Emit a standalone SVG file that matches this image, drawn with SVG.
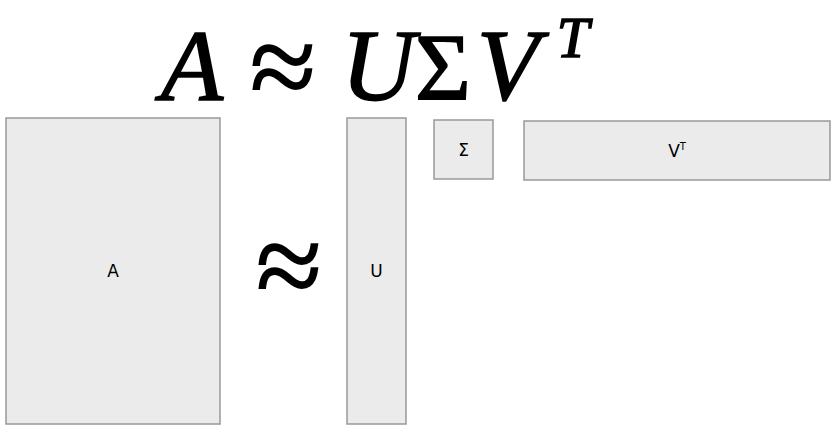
<svg xmlns="http://www.w3.org/2000/svg" width="840" height="432" viewBox="0 0 840 432">
<style>
.box{fill:#ebebeb;stroke:#999;stroke-width:1.5}
.lbl{font-family:"DejaVu Sans",sans-serif;font-size:17px;fill:#000;text-anchor:middle;dominant-baseline:central}
.math{font-family:"Liberation Serif",serif;fill:#000;stroke:#000;stroke-width:1.6;text-anchor:middle}
.it{font-style:italic}
</style>
<rect width="840" height="432" fill="#fff"/>
<g id="title">
<text class="math it" x="192" y="100" font-size="102">A</text>
<text class="math" x="283" y="107" font-size="120" stroke-width="1.1">≈</text>
<text class="math it" x="378" y="100" font-size="102">U</text>
<text class="math" x="443" y="100" font-size="96">Σ</text>
<text class="math it" x="508" y="100" font-size="102">V</text>
<text class="math it" x="573" y="57" font-size="58" stroke-width="1">T</text>
</g>
<g id="node-A"><rect class="box" x="6" y="118" width="214" height="306"/><text class="lbl" x="113" y="271">A</text></g>
<g id="approx"><text class="math" x="289" y="306" font-size="120" stroke-width="1.1">≈</text></g>
<g id="node-U"><rect class="box" x="347" y="118" width="59" height="306"/><text class="lbl" x="376.5" y="271">U</text></g>
<g id="node-S"><rect class="box" x="434" y="120" width="59" height="59"/><text class="lbl" x="463.5" y="150">Σ</text></g>
<g id="node-VT"><rect class="box" x="524" y="121" width="306" height="59"/><text class="lbl" x="677" y="151"><tspan>V</tspan><tspan font-size="10" dy="-5">T</tspan></text></g>
<g id="connectors"/>
</svg>
